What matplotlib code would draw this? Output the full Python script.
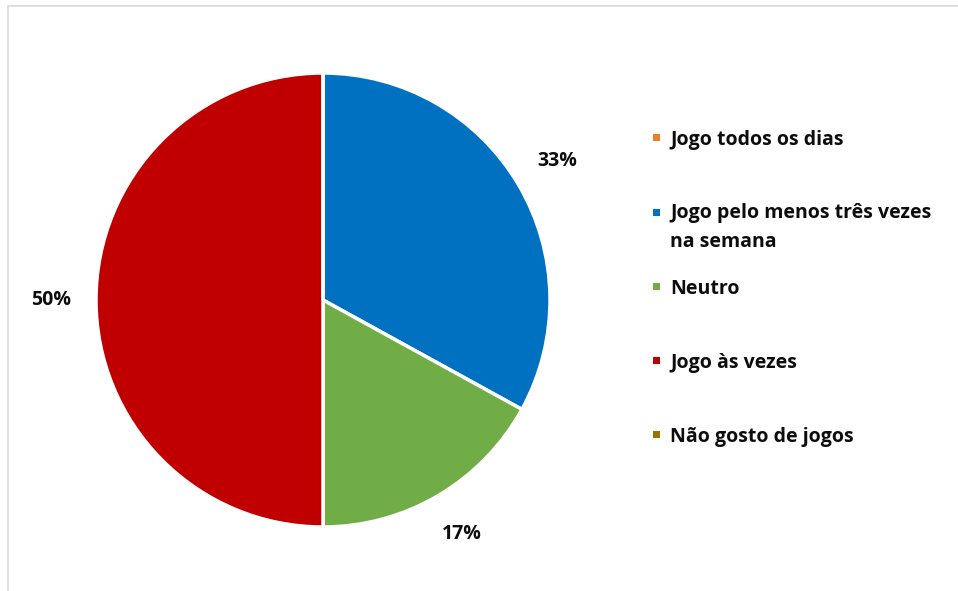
import matplotlib
matplotlib.use("Agg")
import matplotlib.pyplot as plt
from matplotlib.patches import Rectangle

categorias = [
    "Jogo todos os dias",
    "Jogo pelo menos três vezes\nna semana",
    "Neutro",
    "Jogo às vezes",
    "Não gosto de jogos",
]
percentuais = [0, 33, 17, 50, 0]
cores = ["#ED7D31", "#0070C0", "#70AD47", "#C00000", "#997300"]

plt.rcParams["font.family"] = ["Open Sans", "DejaVu Sans"]

W, H = 958, 591
fig = plt.figure(figsize=(W / 100, H / 100), dpi=100)

# moldura cinza do gráfico
fig.patches.append(Rectangle((7.5 / W, -0.02), 1.0, 1.02 - 5.5 / H,
                             transform=fig.transFigure, fill=False,
                             edgecolor="#D9D9D9", linewidth=1.2))

# pizza: centro (323, 300) px, raio 227 px
cx, cy, r = 323, 300, 227
ax = fig.add_axes([(cx - r) / W, (H - cy - r) / H, 2 * r / W, 2 * r / H])


def rotulo(p):
    return f"{p:.0f}%" if p > 0.5 else ""


wedges, _, autotexts = ax.pie(
    percentuais, colors=cores, startangle=90, counterclock=False,
    autopct=rotulo, pctdistance=1.2,
    wedgeprops=dict(edgecolor="white", linewidth=2.5),
    textprops=dict(fontsize=14, fontweight="bold", color="#0d0d0d"),
)
ax.set_xlim(-1, 1)
ax.set_ylim(-1, 1)
ax.set_aspect("equal")

# legenda à direita (linha de base da primeira linha, em px)
leg_base = [145, 220, 294, 368, 442]
passo_linha = 27
for nome, cor, yb in zip(categorias, cores, leg_base):
    fig.patches.append(Rectangle((653 / W, 1 - (yb - 4.5) / H), 7 / W, 7 / H,
                                 transform=fig.transFigure, facecolor=cor,
                                 edgecolor="none"))
    # com va="baseline" o texto fica preso à base da última linha
    ultima = yb + passo_linha * nome.count("\n")
    fig.text(670 / W, 1 - ultima / H, nome, fontsize=14, fontweight="bold",
             color="#0d0d0d", va="baseline", ha="left",
             linespacing=1.6)

fig.savefig("out.png", dpi=100)
